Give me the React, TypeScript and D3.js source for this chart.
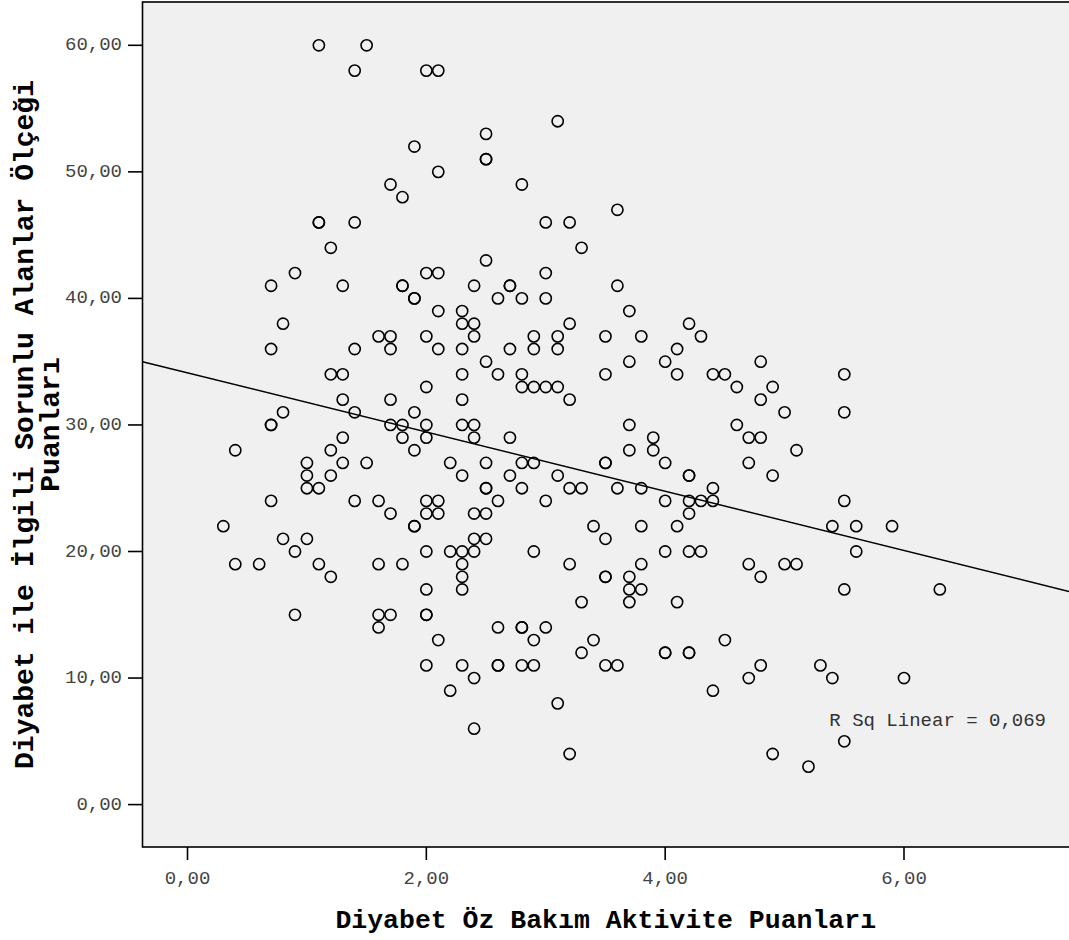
import React from "react";
import * as d3 from "d3";

// Diyabet Öz Bakım Aktivite Puanları (x) and Diyabet ile İlgili Sorunlu Alanlar Ölçeği Puanları (y)
const selfCareScores: number[] = [
  1.1, 1.5, 1.4, 2.0, 2.1, 1.9, 2.1, 1.7, 1.8, 1.1, 1.1, 1.4, 1.2, 0.9, 2.0, 2.1, 0.7, 1.3, 1.8, 1.8,
  3.1, 2.5, 2.5, 2.5, 2.8, 3.6, 3.0, 3.2, 3.3, 2.5, 3.0, 2.4, 2.7, 2.7, 3.6, 2.6, 2.8, 3.0,
  1.9, 1.9, 2.1, 0.8, 0.7, 1.4, 1.6, 1.7, 1.7, 2.0, 2.1, 1.2, 1.3, 2.0, 1.3, 1.7, 0.8, 1.4, 1.9, 0.7, 0.7, 1.7,
  1.8, 2.0, 1.8, 2.0, 1.3, 0.4, 1.2, 1.9, 1.0, 1.3, 1.5, 2.2, 1.0, 1.2, 1.0, 1.1, 0.7, 1.4, 1.6, 2.0, 2.1, 1.7,
  2.0, 2.1, 1.9, 1.9, 0.3, 0.8, 1.0, 0.9, 2.0, 2.2,
  0.4, 0.6, 1.1, 1.2, 1.6, 1.8, 2.0, 0.9, 1.6, 1.7, 1.6, 2.0, 2.0, 2.1, 2.0, 2.2,
  2.3, 2.3, 2.4, 2.4, 3.2, 2.9, 3.1, 3.5, 3.8, 4.2, 4.3, 3.7, 2.3, 2.7, 2.9, 3.1, 4.1, 2.5, 3.7, 4.0,
  2.3, 2.6, 2.8, 3.5, 4.1, 4.4, 2.8, 2.9, 3.0, 3.1, 3.2, 2.3, 2.3, 2.4, 2.4, 2.7, 3.7, 3.9, 3.7, 3.9,
  4.0, 3.5, 3.5, 2.5, 2.8, 2.9, 2.3, 2.7, 3.1, 4.2, 4.2, 2.5, 2.5, 2.8, 3.2, 3.3, 3.6, 3.8, 4.4, 2.6,
  3.0, 4.0, 4.2, 4.3, 4.4, 4.2, 2.4, 2.5, 3.4, 3.8, 4.1, 2.4, 2.5, 3.5, 2.3, 2.4, 2.9, 4.0, 4.2, 4.3,
  2.3, 2.3, 2.3, 3.2, 3.8, 3.5, 3.5, 3.7, 3.7, 3.8, 3.7, 3.3, 4.1, 2.6, 2.8, 2.8, 3.0, 2.9, 3.4, 3.3,
  4.0, 4.0, 4.2, 4.2, 4.5, 4.4, 2.3, 2.4, 2.6, 2.6, 2.8, 2.9, 3.5, 3.6, 3.1, 2.4, 3.2,
  4.8, 5.5, 4.5, 4.6, 4.9, 4.8, 5.0, 5.5, 4.6, 4.7, 4.8, 5.1, 4.7, 4.9, 5.5, 5.4, 5.6, 5.9, 5.6,
  4.7, 4.8, 5.0, 5.1, 5.5, 6.3, 4.8, 4.7, 5.3, 5.4, 6.0, 5.5, 4.9, 5.2,
];

const problemAreaScores: number[] = [
  60, 60, 58, 58, 58, 52, 50, 49, 48, 46, 46, 46, 44, 42, 42, 42, 41, 41, 41, 41,
  54, 53, 51, 51, 49, 47, 46, 46, 44, 43, 42, 41, 41, 41, 41, 40, 40, 40,
  40, 40, 39, 38, 36, 36, 37, 37, 36, 37, 36, 34, 34, 33, 32, 32, 31, 31, 31, 30, 30, 30,
  30, 30, 29, 29, 29, 28, 28, 28, 27, 27, 27, 27, 26, 26, 25, 25, 24, 24, 24, 24, 24, 23,
  23, 23, 22, 22, 22, 21, 21, 20, 20, 20,
  19, 19, 19, 18, 19, 19, 17, 15, 15, 15, 14, 15, 15, 13, 11, 9,
  39, 38, 38, 37, 38, 37, 37, 37, 37, 38, 37, 39, 36, 36, 36, 36, 36, 35, 35, 35,
  34, 34, 34, 34, 34, 34, 33, 33, 33, 33, 32, 32, 30, 30, 29, 29, 30, 29, 28, 28,
  27, 27, 27, 27, 27, 27, 26, 26, 26, 26, 26, 25, 25, 25, 25, 25, 25, 25, 25, 24,
  24, 24, 24, 24, 24, 23, 23, 23, 22, 22, 22, 21, 21, 21, 20, 20, 20, 20, 20, 20,
  19, 18, 17, 19, 19, 18, 18, 18, 17, 17, 16, 16, 16, 14, 14, 14, 14, 13, 13, 12,
  12, 12, 12, 12, 13, 9, 11, 10, 11, 11, 11, 11, 11, 11, 8, 6, 4,
  35, 34, 34, 33, 33, 32, 31, 31, 30, 29, 29, 28, 27, 26, 24, 22, 22, 22, 20,
  19, 18, 19, 19, 17, 17, 11, 10, 11, 10, 10, 5, 4, 3,
];

const xTickValues: number[] = [0, 2, 4, 6];
const yTickValues: number[] = [0, 10, 20, 30, 40, 50, 60];

const fitIntercept = 34.12;
const fitSlope = -2.34;
const rSquaredLabel = "R Sq Linear = 0,069";

const xTitle = "Diyabet Öz Bakım Aktivite Puanları";
const yTitleLine1 = "Diyabet ile İlgili Sorunlu Alanlar Ölçeği";
const yTitleLine2 = "Puanları";

const W = 1069;
const H = 940;
const PLOT_LEFT = 142.5;
const PLOT_TOP = 2;
const PLOT_BOTTOM = 847;
const PLOT_RIGHT = 1080;
const MONO = "'Courier New', 'Liberation Mono', monospace";

const fmt = (v: number) => d3.format(".2f")(v).replace(".", ",");

export default function App() {
  const x = d3.scaleLinear().domain([0, 6]).range([187.5, 904]);
  const y = d3.scaleLinear().domain([0, 60]).range([804.6, 45.3]);

  const points = selfCareScores.map((sx, i) => ({ sx, sy: problemAreaScores[i] }));

  const xMin = x.invert(PLOT_LEFT);
  const xMax = x.invert(W);
  const line = d3
    .line<number>()
    .x((d) => x(d))
    .y((d) => y(fitIntercept + fitSlope * d));

  return (
    <svg
      width={W}
      height={H}
      style={{ position: "absolute", left: 0, top: 0, display: "block", background: "#ffffff" }}
    >
      <defs>
        <clipPath id="plotClip">
          <rect x={PLOT_LEFT} y={PLOT_TOP} width={PLOT_RIGHT - PLOT_LEFT} height={PLOT_BOTTOM - PLOT_TOP} />
        </clipPath>
      </defs>
      <rect
        x={PLOT_LEFT}
        y={PLOT_TOP}
        width={PLOT_RIGHT - PLOT_LEFT}
        height={PLOT_BOTTOM - PLOT_TOP}
        fill="#f0f0f0"
        stroke="#000"
        strokeWidth={1.6}
      />
      <g clipPath="url(#plotClip)">
        {points.map((p, i) => (
          <circle
            key={i}
            cx={x(p.sx)}
            cy={y(p.sy)}
            r={5.6}
            fill="none"
            stroke="#000"
            strokeWidth={1.6}
          />
        ))}
        <path d={line([xMin, xMax]) || ""} fill="none" stroke="#000" strokeWidth={1.5} />
      </g>
      <text
        x={1046}
        y={726}
        textAnchor="end"
        fontFamily={MONO}
        fontSize={19}
        fill="#333"
      >
        {rSquaredLabel}
      </text>
      {/* Y axis ticks */}
      {yTickValues.map((v) => (
        <g key={"y" + v}>
          <line x1={128} x2={PLOT_LEFT} y1={y(v)} y2={y(v)} stroke="#000" strokeWidth={1.6} />
          <text
            x={122}
            y={y(v)}
            textAnchor="end"
            dominantBaseline="central"
            fontFamily={MONO}
            fontSize={19}
            fill="#444"
          >
            {fmt(v)}
          </text>
        </g>
      ))}
      {/* X axis ticks */}
      {xTickValues.map((v) => (
        <g key={"x" + v}>
          <line x1={x(v)} x2={x(v)} y1={PLOT_BOTTOM} y2={860} stroke="#000" strokeWidth={1.6} />
          <text
            x={x(v)}
            y={879}
            textAnchor="middle"
            dominantBaseline="central"
            fontFamily={MONO}
            fontSize={19}
            fill="#444"
          >
            {fmt(v)}
          </text>
        </g>
      ))}
      <text
        x={(PLOT_LEFT + W) / 2}
        y={928}
        textAnchor="middle"
        fontFamily={MONO}
        fontSize={26.5}
        fontWeight="bold"
        fill="#000"
      >
        {xTitle}
      </text>
      <g transform={`translate(33, ${(PLOT_TOP + PLOT_BOTTOM) / 2}) rotate(-90)`}>
        <text x={0} y={0} textAnchor="middle" fontFamily={MONO} fontSize={28} fontWeight="bold" fill="#000">
          {yTitleLine1}
        </text>
        <text x={0} y={26} textAnchor="middle" fontFamily={MONO} fontSize={28} fontWeight="bold" fill="#000">
          {yTitleLine2}
        </text>
      </g>
    </svg>
  );
}
